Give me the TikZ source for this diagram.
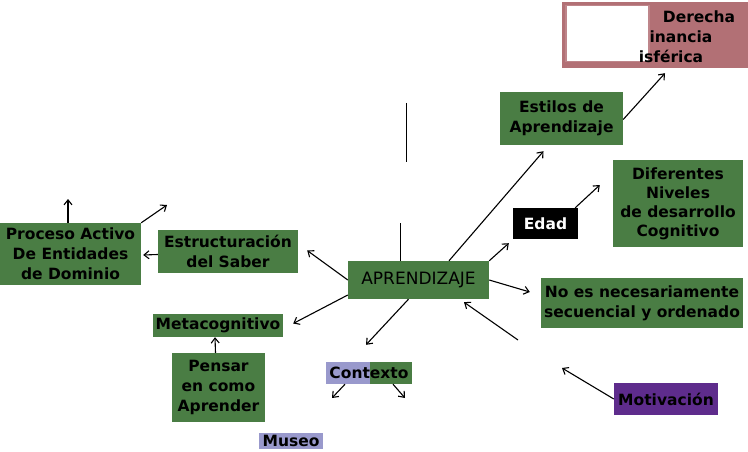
\documentclass[tikz,border=0pt]{standalone}
\usepackage{fontspec}
\setmainfont{DejaVu Sans}
\usepackage{tikz}
\usetikzlibrary{shapes,arrows,arrows.meta}
\usetikzlibrary{positioning}
\definecolor{leaf}{RGB}{74,125,68}
\definecolor{rose}{RGB}{178,112,117}
\definecolor{lav}{RGB}{153,153,204}
\definecolor{grape}{RGB}{94,44,140}
\tikzstyle{concept} = [rectangle, fill=leaf, text=black, align=center,
    inner sep=1pt, font=\bfseries\fontsize{15.5}{20}\selectfont]
\tikzstyle{arr} = [-{Straight Barb[length=5pt,width=8pt]}, line width=1.1pt]

\begin{document}
\begin{tikzpicture}[x=1pt, y=-1pt]
  \useasboundingbox (0,0) rectangle (748,452);
  \node [concept, minimum width=141pt, minimum height=38pt,
    font=\fontsize{17}{20}\selectfont] (apr) at (418.5,280) {APRENDIZAJE};
  \node [concept, minimum width=123pt, minimum height=53pt,
    right of=apr, node distance=143pt, yshift=161.5pt] (estilos)
  {Estilos de\\Aprendizaje};
  \node [concept, fill=black, text=white, minimum width=65pt, minimum height=31pt,
    right of=apr, node distance=127pt, yshift=56.5pt] (edad) {Edad};
  \node [concept, minimum width=130pt, minimum height=87pt,
    font=\bfseries\fontsize{15.5}{19}\selectfont,
    right of=apr, node distance=259.5pt, yshift=76.5pt] (dif)
  {Diferentes\\Niveles\\de desarrollo\\Cognitivo};
  \node [concept, minimum width=202pt, minimum height=50pt,
    right of=apr, node distance=223.5pt, yshift=-23pt] (noes)
  {No es necesariamente\\secuencial y ordenado};
  \node [concept, fill=grape, minimum width=104pt, minimum height=32pt,
    right of=apr, node distance=247.5pt, yshift=-119pt] (motiv) {Motivación};
  \node [concept, minimum width=86pt, minimum height=22pt,
    path picture={\fill [lav] (path picture bounding box.south west)
      rectangle ([xshift=44pt]path picture bounding box.north west);},
    left of=apr, node distance=49.5pt, yshift=-93pt] (ctx) {Contexto};
  \node [concept, fill=lav, minimum width=64pt, minimum height=16pt,
    left of=ctx, node distance=78pt, yshift=-68pt] (museo) {Museo};
  \node [concept, minimum width=140pt, minimum height=43pt,
    left of=apr, node distance=190.5pt, yshift=28.5pt] (estr)
  {Estructuración\\del Saber};
  \node [concept, minimum width=141pt, minimum height=62pt,
    left of=estr, node distance=157.5pt, yshift=-2.5pt] (proc)
  {Proceso Activo\\De Entidades\\de Dominio};
  \node [concept, minimum width=130pt, minimum height=23pt,
    left of=apr, node distance=200.5pt, yshift=-45.5pt] (meta) {Metacognitivo};
  \node [concept, minimum width=93pt, minimum height=69pt,
    below of=meta, node distance=62pt, xshift=0.5pt] (pensar)
  {Pensar\\en como\\Aprender};
  % recuadro rosa, tapado en parte
  \node [concept, fill=rose, minimum width=186pt, minimum height=66pt,
    right of=estilos, node distance=93.5pt, yshift=83.5pt] (hemi) {};
  \node [fill=white, draw=rose!85!white, line width=1.5pt,
    minimum width=83pt, minimum height=56pt] (blank) at (607.5,33.5) {};
  \node [concept, fill=none] (derecha) at (699,17) {Derecha};
  \node [concept, fill=none] (inancia) at (681,37) {inancia};
  \node [concept, fill=none] (isferica) at (671,56) {isférica};

  \coordinate (procup) at (68,199);
  \coordinate (procne) at (167,205);
  \coordinate (ctxl) at (332,398);
  \coordinate (ctxr) at (405,398);
  \coordinate (aprtop) at (400,223);
  \coordinate (vtop) at (406,103);
  \coordinate (vbot) at (406,162);
  \coordinate (mfree) at (518,340);
  \coordinate (mend) at (562,368);

  \draw [arr] (apr.west) -- ([xshift=9pt,yshift=1pt]estr.east);
  \draw [arr] ([yshift=-3pt]estr.west) -- ([xshift=2pt,yshift=-1pt]proc.east);
  \draw [arr] (procup |- proc.north) -- (procup);
  \draw [arr] (proc.north east) -- (procne);
  \draw [arr] ([yshift=-15pt]apr.west) -- ([xshift=10pt,yshift=2pt]meta.east);
  \draw [arr] ([xshift=-3pt]pensar.north) -- ([xshift=-3pt]meta.south);
  \draw [arr] ([xshift=-10pt]apr.south) -- ([xshift=-3pt,yshift=17pt]ctx.north);
  \draw [arr] ([xshift=-24pt]ctx.south) -- (ctxl);
  \draw [arr] ([xshift=24pt]ctx.south) -- (ctxr);
  \draw [line width=1pt] (aprtop) -- (aprtop |- apr.north);
  \draw [line width=1pt] (vtop) -- (vbot);
  \draw [arr] ([xshift=30.5pt]apr.north) -- ([xshift=-18pt,yshift=-6pt]estilos.south);
  \draw [arr] ([yshift=-1pt]estilos.east) -- ([xshift=10pt,yshift=-5pt]hemi.south);
  \draw [arr] (apr.north east) -- ([xshift=-4pt,yshift=-4pt]edad.south west);
  \draw [arr] ([xshift=-3pt]edad.north east) -- ([xshift=-13pt,yshift=18.5pt]dif.west);
  \draw [arr] (apr.east) -- ([xshift=-11pt,yshift=11pt]noes.west);
  \draw [arr] (mfree) -- ([xshift=45.5pt,yshift=-3pt]apr.south);
  \draw [arr] (motiv.west) -- (mend);
\end{tikzpicture}
\end{document}
